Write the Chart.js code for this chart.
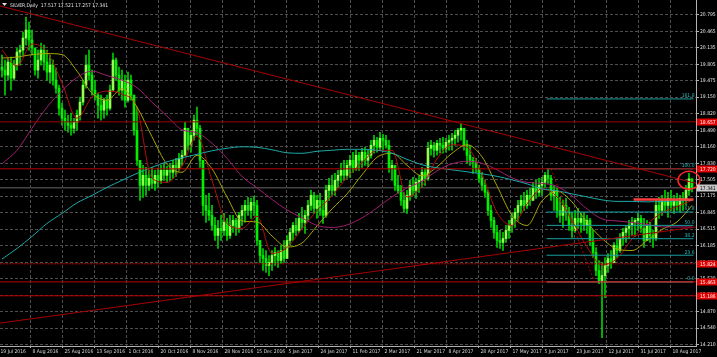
<!DOCTYPE html>
<html>
<head>
<meta charset="utf-8">
<script src="https://cdn.jsdelivr.net/npm/chart.js@4.4.1/dist/chart.umd.min.js"></script>
<style>
  html, body { margin: 0; padding: 0; background: #000; overflow: hidden; }
</style>
</head>
<body>
<canvas id="silverChart" width="717" height="357"></canvas>
<script>
// SILVER, Daily - candles with moving averages, levels and a fibonacci set

const headerQuote = ['17.517', '17.521', '17.257', '17.341'];

const dateLabels = ['19 Jul 2016', '8 Aug 2016', '25 Aug 2016', '13 Sep 2016', '1 Oct 2016', '20 Oct 2016',
  '8 Nov 2016', '28 Nov 2016', '15 Dec 2016', '5 Jan 2017', '24 Jan 2017', '11 Feb 2017', '2 Mar 2017',
  '21 Mar 2017', '8 Apr 2017', '28 Apr 2017', '17 May 2017', '5 Jun 2017', '23 Jun 2017', '12 Jul 2017',
  '31 Jul 2017', '18 Aug 2017'];

const priceTicks = [14.210, 14.540, 14.870, 15.200, 15.530, 15.855, 16.185, 16.515, 16.845, 17.175, 17.505,
  17.830, 18.160, 18.490, 18.820, 19.150, 19.475, 19.805, 20.135, 20.465, 20.795];

// daily bars (one per session)
const firstOpen = 19.75;
const highs = [
  19.99, 19.89, 19.93, 19.95, 19.89, 20.13, 20.19, 20.45, 20.75, 20.65,
  20.49, 20.13, 20.09, 20.23, 20.19, 20.09, 19.99, 19.89, 19.73, 19.39,
  19.03, 18.89, 18.79, 18.83, 18.73, 18.89, 19.15, 19.49, 19.99, 20.09,
  19.69, 19.49, 19.23, 19.19, 19.13, 19.19, 19.39, 20.03, 19.93, 19.75,
  19.69, 19.59, 19.65, 19.59, 19.19, 18.95, 17.89, 17.79, 17.75, 17.69,
  17.75, 17.69, 17.73, 17.79, 17.83, 17.77, 17.83, 17.89, 17.93, 18.03,
  18.09, 18.65, 18.53, 18.49, 18.79, 18.95, 18.59, 17.89, 17.19, 17.23,
  16.99, 16.75, 16.69, 16.79, 16.83, 16.73, 16.79, 16.79, 16.73, 16.85,
  16.99, 17.09, 17.15, 17.13, 17.17, 17.09, 16.29, 16.13, 16.09, 15.99,
  16.09, 16.15, 16.09, 16.19, 16.29, 16.39, 16.53, 16.65, 16.73, 16.83,
  16.95, 16.89, 17.09, 17.29, 17.25, 17.19, 17.23, 17.09, 17.39, 17.53,
  17.59, 17.63, 17.69, 17.83, 17.89, 17.89, 17.99, 18.05, 18.09, 18.05,
  18.13, 18.15, 18.09, 18.29, 18.39, 18.35, 18.45, 18.41, 18.39, 18.29,
  17.89, 17.79, 17.59, 17.39, 17.25, 17.29, 17.49, 17.55, 17.53, 17.59,
  17.75, 17.73, 18.25, 18.29, 18.25, 18.29, 18.33, 18.35, 18.33, 18.39,
  18.43, 18.49, 18.53, 18.63, 18.53, 18.29, 18.19, 17.95, 17.93, 17.79,
  17.65, 17.49, 17.29, 16.99, 16.75, 16.59, 16.49, 16.45, 16.59, 16.69,
  16.83, 16.93, 17.09, 17.19, 17.25, 17.29, 17.33, 17.45, 17.49, 17.53,
  17.55, 17.65, 17.73, 17.59, 17.39, 17.33, 17.15, 17.09, 17.13, 16.95,
  16.85, 16.89, 16.93, 16.83, 16.85, 16.79, 16.73, 16.49, 16.15, 15.89,
  15.85, 15.95, 16.03, 16.09, 16.25, 16.33, 16.43, 16.53, 16.59, 16.69,
  16.75, 16.73, 16.83, 16.79, 16.73, 16.69, 16.65, 16.49, 17.09, 17.15,
  17.19, 17.29, 17.25, 17.29, 17.19, 17.23, 17.19, 17.25, 17.39, 17.63,
  17.521
];
const lows = [
  19.55, 19.19, 19.49, 19.29, 19.49, 19.69, 19.79, 19.99, 20.19, 20.09,
  19.99, 19.59, 19.53, 19.79, 19.69, 19.49, 19.43, 19.39, 19.23, 18.79,
  18.59, 18.49, 18.45, 18.39, 18.43, 18.49, 18.69, 18.99, 19.33, 19.49,
  19.19, 19.09, 18.73, 18.69, 18.73, 18.79, 18.89, 19.29, 19.49, 19.19,
  19.09, 18.95, 19.05, 19.09, 18.39, 17.79, 17.09, 17.15, 17.19, 17.29,
  17.33, 17.29, 17.35, 17.43, 17.49, 17.45, 17.49, 17.53, 17.57, 17.69,
  17.79, 17.99, 18.09, 18.05, 18.29, 18.39, 17.75, 16.79, 16.65, 16.69,
  16.49, 16.29, 16.13, 16.29, 16.39, 16.29, 16.33, 16.45, 16.39, 16.45,
  16.59, 16.65, 16.79, 16.73, 16.79, 16.19, 15.85, 15.69, 15.65, 15.59,
  15.69, 15.79, 15.75, 15.83, 15.85, 15.93, 16.19, 16.29, 16.39, 16.45,
  16.53, 16.43, 16.69, 16.89, 16.83, 16.73, 16.79, 16.63, 16.75, 17.09,
  17.19, 17.19, 17.35, 17.45, 17.49, 17.53, 17.55, 17.65, 17.69, 17.69,
  17.75, 17.79, 17.77, 17.93, 18.03, 18.05, 18.09, 18.09, 18.13, 17.65,
  17.49, 17.29, 17.23, 16.99, 16.85, 16.83, 17.09, 17.19, 17.13, 17.25,
  17.35, 17.39, 17.49, 17.99, 17.95, 17.99, 18.03, 18.03, 18.05, 18.09,
  18.09, 18.19, 18.25, 18.29, 18.09, 17.83, 17.79, 17.63, 17.65, 17.45,
  17.29, 17.15, 16.79, 16.55, 16.33, 16.15, 16.13, 16.09, 16.25, 16.33,
  16.45, 16.55, 16.69, 16.83, 16.89, 16.93, 16.99, 17.09, 17.13, 17.17,
  17.19, 17.35, 17.43, 17.09, 16.89, 16.75, 16.65, 16.55, 16.69, 16.49,
  16.35, 16.45, 16.53, 16.45, 16.49, 16.43, 16.19, 15.95, 15.59, 15.43,
  14.35, 15.15, 15.65, 15.73, 15.85, 15.95, 16.05, 16.19, 16.25, 16.33,
  16.39, 16.37, 16.49, 16.45, 16.15, 16.29, 16.25, 16.15, 16.29, 16.73,
  16.79, 16.85, 16.75, 16.89, 16.83, 16.89, 16.85, 16.89, 16.99, 17.19,
  17.257
];
const closes = [
  19.69, 19.59, 19.85, 19.53, 19.79, 20.05, 20.09, 20.33, 20.49, 20.29,
  20.13, 19.69, 19.89, 20.09, 19.85, 19.65, 19.79, 19.49, 19.33, 18.93,
  18.73, 18.65, 18.59, 18.53, 18.65, 18.79, 19.05, 19.39, 19.79, 19.59,
  19.29, 19.19, 18.99, 18.89, 19.09, 18.93, 19.29, 19.89, 19.59, 19.29,
  19.49, 19.09, 19.49, 19.19, 18.49, 17.89, 17.39, 17.59, 17.39, 17.53,
  17.43, 17.59, 17.49, 17.69, 17.59, 17.69, 17.65, 17.79, 17.73, 17.93,
  17.99, 18.53, 18.19, 18.39, 18.69, 18.53, 17.89, 16.99, 16.89, 16.79,
  16.59, 16.39, 16.53, 16.49, 16.65, 16.39, 16.59, 16.69, 16.53, 16.79,
  16.89, 16.99, 16.89, 17.05, 16.99, 16.29, 15.99, 15.93, 15.79, 15.85,
  15.99, 16.05, 15.89, 16.09, 15.93, 16.29, 16.45, 16.59, 16.49, 16.73,
  16.65, 16.79, 16.99, 17.19, 16.93, 17.09, 16.89, 16.79, 17.29, 17.39,
  17.29, 17.49, 17.59, 17.69, 17.59, 17.79, 17.89, 17.73, 17.99, 17.89,
  18.05, 17.89, 17.99, 18.19, 18.29, 18.15, 18.33, 18.29, 18.19, 17.73,
  17.79, 17.39, 17.29, 17.09, 16.93, 17.19, 17.39, 17.29, 17.45, 17.49,
  17.65, 17.53, 18.13, 18.19, 18.09, 18.23, 18.19, 18.13, 18.25, 18.29,
  18.33, 18.39, 18.49, 18.53, 18.19, 17.99, 17.89, 17.85, 17.73, 17.53,
  17.39, 17.25, 16.89, 16.69, 16.45, 16.29, 16.25, 16.33, 16.49, 16.59,
  16.73, 16.85, 16.99, 17.09, 16.99, 17.19, 17.09, 17.33, 17.25, 17.39,
  17.45, 17.59, 17.53, 17.19, 17.29, 16.89, 16.79, 16.99, 16.85, 16.59,
  16.49, 16.73, 16.65, 16.73, 16.59, 16.69, 16.29, 16.05, 15.69, 15.49,
  15.59, 15.79, 15.93, 15.85, 16.19, 16.09, 16.33, 16.45, 16.53, 16.59,
  16.65, 16.69, 16.73, 16.53, 16.29, 16.59, 16.39, 16.33, 16.99, 16.89,
  17.09, 16.99, 17.13, 16.99, 17.09, 16.99, 17.13, 17.09, 17.29, 17.52,
  17.341
];

// moving averages, one reading every maStep bars
const maStep = 5;
const maCyan = [15.92, 16.13, 16.37, 16.63, 16.83, 17.04, 17.19, 17.35, 17.49, 17.63, 17.75, 17.86, 17.94,
  18.01, 18.08, 18.13, 18.16, 18.15, 18.10, 18.04, 18.03, 18.07, 18.09, 18.11, 18.11, 18.09, 18.03, 17.91,
  17.80, 17.74, 17.70, 17.66, 17.62, 17.57, 17.50, 17.42, 17.32, 17.28, 17.22, 17.16, 17.10, 17.07, 17.07,
  17.06, 17.07, 17.08, 17.09];
const maPurple = [17.82, 18.09, 18.53, 18.95, 19.28, 19.54, 19.67, 19.58, 19.49, 19.34, 19.05, 18.77, 18.50,
  18.44, 18.23, 17.93, 17.57, 17.34, 17.11, 16.90, 16.74, 16.59, 16.55, 16.60, 16.74, 16.94, 17.16, 17.34,
  17.47, 17.68, 17.82, 17.87, 17.83, 17.70, 17.54, 17.45, 17.43, 17.37, 17.18, 16.92, 16.72, 16.68, 16.65,
  16.61, 16.56, 16.56, 16.56];
const maRed = [20.09, 19.77, 20.21, 20.05, 19.43, 18.73, 19.15, 19.27, 19.21, 18.93, 17.53, 17.45, 17.77,
  18.37, 17.49, 16.63, 16.53, 16.77, 16.03, 16.15, 16.52, 16.89, 17.18, 17.55, 17.84, 18.09, 18.09, 17.16,
  17.37, 17.92, 18.20, 18.15, 17.61, 16.85, 16.59, 17.02, 17.32, 17.16, 16.69, 16.16, 15.80, 15.93, 16.32,
  16.62, 16.84, 16.97, 17.09];
const maYellow = [19.93, 19.95, 20.00, 20.02, 20.00, 19.67, 19.23, 19.09, 19.32, 18.95, 18.36, 17.81, 17.65,
  17.99, 17.72, 17.16, 16.68, 16.66, 16.38, 16.16, 16.24, 16.58, 16.92, 17.22, 17.60, 17.95, 18.03, 17.79,
  17.58, 17.76, 18.03, 18.20, 17.96, 17.38, 16.79, 16.59, 17.08, 17.27, 17.06, 16.65, 16.33, 16.12, 16.09,
  16.29, 16.51, 16.66, 16.99];

// drawn objects
const hLevels = [18.657, 17.720, 15.824, 15.463, 15.186];
const lastPrice = 17.341;
const trendDown = [[-0.67, 20.97], [231.33, 17.43]];
const trendUp = [[-0.67, 14.64], [231.33, 16.56]];
const fibHigh = 17.720;
const fibLow = 15.463;
const fibSpan = [181.5, 230.5];
const fibAnchors = [183, 197.5];
const fibRatios = [0, 23.6, 38.2, 50.0, 61.8, 100.0, 161.8];
const fibLabels = ['0.0', '23.6', '38.2', '50.0', '61.8', '100.0', '161.8'];
const redZone = [[210.5, 17.11], [230.5, 17.11]];
const circleAt = [229, 17.49];

const X_MIN = -0.667, X_MAX = 231.333;
const Y_MIN = 14.184, Y_MAX = 21.089;
const FONT_FAMILY = "'Liberation Sans Narrow', 'DejaVu Sans Condensed', 'Liberation Sans', sans-serif";
const FONT_SIZE = 5;

const seg = (pts, color, width, dash, order) => ({
  type: 'line',
  data: pts.map(p => ({ x: p[0], y: p[1] })),
  borderColor: color,
  borderWidth: width,
  borderDash: dash || [],
  pointRadius: 0,
  fill: false,
  order: order
});

const maLine = (vals, color) => ({
  type: 'line',
  data: vals.map((v, k) => ({ x: k * maStep, y: v })),
  borderColor: color,
  borderWidth: 1,
  pointRadius: 0,
  cubicInterpolationMode: 'monotone',
  fill: false,
  order: 1
});

const opens = closes.map((c, i) => i === 0 ? firstOpen : closes[i - 1]);

const datasets = [];

// candles
datasets.push({
  type: 'bar',
  data: highs.map((h, i) => ({ x: i, y: [lows[i], h] })),
  backgroundColor: '#00d000',
  barThickness: 1,
  grouped: false,
  borderWidth: 0,
  order: 3
});
datasets.push({
  type: 'bar',
  data: closes.map((c, i) => ({ x: i, y: [opens[i], c] })),
  backgroundColor: closes.map((c, i) => c >= opens[i] ? '#90ff50' : '#00f000'),
  barThickness: 2,
  minBarLength: 1,
  grouped: false,
  borderWidth: 0,
  order: 2
});

// indicators
datasets.push(maLine(maCyan, '#1ea8a8'));
datasets.push(maLine(maPurple, '#9e1f70'));
datasets.push(maLine(maYellow, '#a8a800'));
datasets.push(maLine(maRed, '#b40c0c'));

// current price line
datasets.push(seg([[X_MIN, lastPrice], [X_MAX, lastPrice]], '#444444', 1.5, null, 4));

// horizontal levels
hLevels.forEach((v, k) => {
  datasets.push(seg([[X_MIN, v], [X_MAX, v]], k === 0 ? '#9a0000' : '#b80000', 1, k === 2 ? [2, 1] : null, 0));
});

// trend lines
datasets.push(seg(trendDown, '#a80000', 1, null, 0));
datasets.push(seg(trendUp, '#a80000', 1, null, 0));

// fibonacci
fibRatios.forEach(r => {
  const p = fibLow + (fibHigh - fibLow) * r / 100;
  datasets.push(seg([[fibSpan[0], p], [fibSpan[1], p]], r === 0 ? '#c8c8c8' : '#1a9e9e', 1, null, 0));
});
datasets.push(seg([[fibAnchors[0], fibHigh], [fibAnchors[1], fibLow]], '#b00000', 1, [2, 2], 0));

// short resistance mark
datasets.push(seg(redZone, '#ff3c3c', 2.5, null, 0));

const overlay = {
  id: 'overlay',
  beforeDraw(chart) {
    const c = chart.ctx;
    c.save();
    c.fillStyle = '#000';
    c.fillRect(0, 0, chart.width, chart.height);
    c.restore();
  },
  afterDraw(chart) {
    const c = chart.ctx;
    const xs = chart.scales.x, ys = chart.scales.y;
    const right = chart.chartArea.right;
    c.save();
    c.font = FONT_SIZE + 'px ' + FONT_FAMILY;

    // fib level captions
    c.fillStyle = '#2abcbc';
    c.textAlign = 'right';
    c.textBaseline = 'bottom';
    fibRatios.forEach((r, k) => {
      const p = fibLow + (fibHigh - fibLow) * r / 100;
      c.fillText(fibLabels[k], xs.getPixelForValue(fibSpan[1]) + 1, ys.getPixelForValue(p) - 0.5);
    });

    // circle marker
    c.strokeStyle = '#ff2626';
    c.lineWidth = 1.5;
    c.beginPath();
    c.ellipse(xs.getPixelForValue(circleAt[0]), ys.getPixelForValue(circleAt[1]), 11, 9, 0, 0, Math.PI * 2);
    c.stroke();

    // price boxes on the axis
    const box = (v, bg, fg) => {
      const py = Math.round(ys.getPixelForValue(v));
      c.fillStyle = bg;
      c.fillRect(right + 1, py - 3.5, chart.width - right - 1, 7);
      c.fillStyle = fg;
      c.textAlign = 'left';
      c.textBaseline = 'middle';
      c.fillText(v.toFixed(3), right + 4, py + 0.5);
    };
    hLevels.forEach(v => box(v, '#e00000', '#ffffff'));
    box(lastPrice, '#c8c8c8', '#000000');

    // header
    c.fillStyle = '#e0e0e0';
    c.beginPath();
    c.moveTo(2, 3); c.lineTo(7, 3); c.lineTo(4.5, 6); c.closePath();
    c.fill();
    c.textAlign = 'left';
    c.textBaseline = 'alphabetic';
    c.fillText('SILVER,Daily  ' + headerQuote.join(' '), 10, 7);
    c.restore();
  }
};

new Chart(document.getElementById('silverChart'), {
  type: 'bar',
  data: { datasets: datasets },
  options: {
    responsive: false,
    maintainAspectRatio: false,
    animation: false,
    devicePixelRatio: 1,
    layout: { padding: 0 },
    plugins: {
      legend: { display: false },
      tooltip: { enabled: false }
    },
    scales: {
      x: {
        type: 'linear',
        min: X_MIN,
        max: X_MAX,
        offset: false,
        grid: { color: '#4e4e4e', offset: false, tickLength: 2, tickColor: '#b0b0b0' },
        border: { display: true, color: '#b0b0b0', dash: [3, 2] },
        ticks: {
          autoSkip: false,
          maxRotation: 0,
          align: 'start',
          labelOffset: 2.5,
          padding: 1,
          color: '#d8d8d8',
          font: { family: FONT_FAMILY, size: FONT_SIZE },
          callback: (v, k) => dateLabels[k]
        },
        afterBuildTicks: s => { s.ticks = dateLabels.map((d, k) => ({ value: (32 * k - 4) / 3 })); },
        afterFit: s => { s.height = 11; s.paddingLeft = 0; s.paddingRight = 0; }
      },
      y: {
        position: 'right',
        min: Y_MIN,
        max: Y_MAX,
        grid: { color: '#4e4e4e', tickLength: 3, tickColor: '#b0b0b0' },
        border: { display: true, color: '#b0b0b0', dash: [3, 2] },
        ticks: {
          autoSkip: false,
          padding: 1,
          color: '#e4e4e4',
          font: { family: FONT_FAMILY, size: FONT_SIZE },
          callback: v => v.toFixed(3)
        },
        afterBuildTicks: s => { s.ticks = priceTicks.map(v => ({ value: v })); },
        afterFit: s => { s.width = 21; s.paddingTop = 0; s.paddingBottom = 0; }
      }
    }
  },
  plugins: [overlay]
});
</script>
</body>
</html>
